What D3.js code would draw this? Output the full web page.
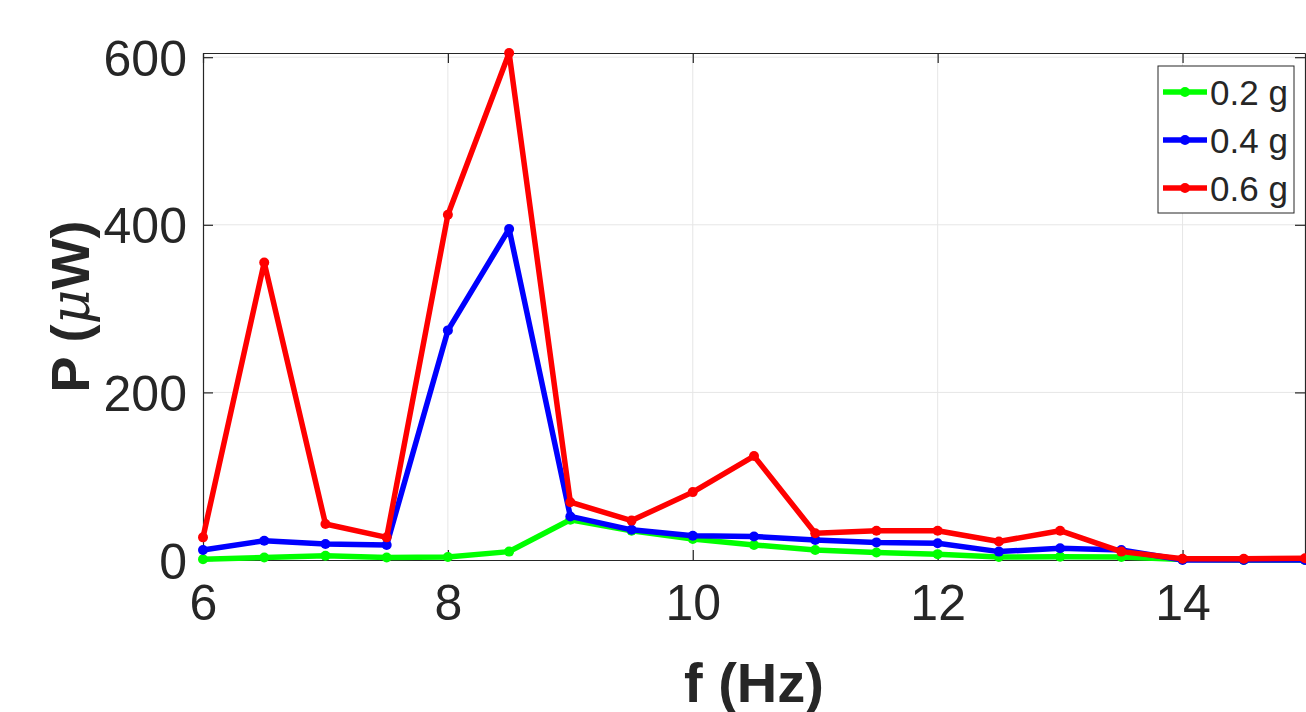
<!DOCTYPE html>
<html>
<head>
<meta charset="utf-8">
<script src="https://cdn.jsdelivr.net/npm/d3@7"></script>
<style>
  body { margin: 0; background: #fff; overflow: hidden; }
  text { font-family: "Liberation Sans", Arial, sans-serif; fill: #262626; }
</style>
</head>
<body>
<svg id="chart" width="1306" height="712"></svg>
<script>
// frequency sweep (Hz)
var freqs = [6, 6.5, 7, 7.5, 8, 8.5, 9, 9.5, 10, 10.5, 11, 11.5, 12, 12.5, 13, 13.5, 14, 14.5, 15];

// power in uW for each acceleration level
var p02 = [1, 3, 5, 3, 3.5, 10, 48, 35, 25, 18, 12, 9, 7, 3.5, 4, 3.5, 0.5, 0, 0];
var p04 = [12, 23, 19, 18, 274, 395, 52, 36, 29, 28, 24, 21, 20, 10, 14, 12, 0, 0, 0];
var p06 = [27, 355, 43, 27, 412, 605, 69, 47, 81, 124, 32, 35, 35, 22, 35, 10, 1.5, 1.5, 2];

var seriesNames = ["0.2 g", "0.4 g", "0.6 g"];
var seriesColors = ["#00ff00", "#0000ff", "#ff0000"];

var xTicks = [6, 8, 10, 12, 14];
var yTicks = [0, 200, 400, 600];

var series = [p02, p04, p06].map(function(vals, i) {
    return {
        name: seriesNames[i],
        color: seriesColors[i],
        values: vals.map(function(v, j) { return {f: freqs[j], p: v}; })
    };
});

var margin = {top: 53, right: 1, left: 203, bottom: 152};
var width = 1306 - margin.left - margin.right,
    height = 712 - margin.top - margin.bottom;

var svg = d3.select("#chart");
var g = svg.append("g")
    .attr("transform", "translate(" + margin.left + "," + margin.top + ")");

var x = d3.scaleLinear().domain([6, 15]).range([0, width]);
var y = d3.scaleLinear().domain([0, 605]).range([height, 0]);

// grid
g.append("g").selectAll("line.vgrid")
    .data(xTicks.slice(1))
    .enter().append("line")
    .attr("x1", d => x(d)).attr("x2", d => x(d))
    .attr("y1", 0).attr("y2", height)
    .attr("stroke", "#e6e6e6").attr("stroke-width", 1);

g.append("g").selectAll("line.hgrid")
    .data(yTicks.slice(1))
    .enter().append("line")
    .attr("x1", 0).attr("x2", width)
    .attr("y1", d => y(d)).attr("y2", d => y(d))
    .attr("stroke", "#e6e6e6").attr("stroke-width", 1);

// axes (ticks point inward, like matlab)
var xAxis = d3.axisBottom(x).tickValues(xTicks).tickSizeInner(-10).tickSizeOuter(0).tickPadding(24);
var yAxis = d3.axisLeft(y).tickValues(yTicks).tickSizeInner(-10).tickSizeOuter(0).tickPadding(16);

var gx = g.append("g").attr("transform", "translate(0," + height + ")").call(xAxis);
var gy = g.append("g").call(yAxis);

// top and right box edges with ticks
var gxTop = g.append("g").call(d3.axisTop(x).tickValues(xTicks).tickSizeInner(-10).tickSizeOuter(0).tickFormat(""));
var gyRight = g.append("g").attr("transform", "translate(" + width + ",0)")
    .call(d3.axisRight(y).tickValues(yTicks).tickSizeInner(-10).tickSizeOuter(0).tickFormat(""));

[gx, gy, gxTop, gyRight].forEach(function(a) {
    a.select(".domain").attr("stroke", "#262626").attr("stroke-width", 1.2);
    a.selectAll(".tick line").attr("stroke", "#262626").attr("stroke-width", 1.2);
    a.selectAll(".tick text")
        .style("font-family", "'Liberation Sans', Arial, sans-serif")
        .style("font-size", "50px")
        .attr("fill", "#262626");
});
gy.selectAll(".tick text").attr("dy", "0.36em");
gx.selectAll(".tick text").attr("dy", "0.72em");

// lines
var line = d3.line().x(d => x(d.f)).y(d => y(d.p));

var sg = g.selectAll("g.series")
    .data(series)
    .enter().append("g").attr("class", "series");

sg.append("path")
    .attr("d", d => line(d.values))
    .attr("fill", "none")
    .attr("stroke", d => d.color)
    .attr("stroke-width", 5.5)
    .attr("stroke-linejoin", "round");

sg.each(function(s) {
    d3.select(this).selectAll("circle")
        .data(s.values)
        .enter().append("circle")
        .attr("cx", d => x(d.f))
        .attr("cy", d => y(d.p))
        .attr("r", 5)
        .attr("fill", s.color);
});

// axis labels
svg.append("text")
    .attr("x", margin.left + width / 2)
    .attr("y", 702)
    .attr("text-anchor", "middle")
    .style("font-size", "56px")
    .style("font-weight", "bold")
    .text("f (Hz)");

var yl = svg.append("text")
    .attr("transform", "translate(89," + (margin.top + height / 2) + ") rotate(-90)")
    .attr("text-anchor", "middle")
    .style("font-size", "54px")
    .style("font-weight", "bold");
yl.append("tspan").text("P (");
yl.append("tspan")
    .style("font-family", "'DejaVu Serif', 'Liberation Serif', serif")
    .style("font-style", "italic")
    .style("font-weight", "normal")
    .text("\u03bc");
yl.append("tspan").text("W)");

// legend
var legend = svg.append("g").attr("transform", "translate(1158,66)");
legend.append("rect")
    .attr("width", 136).attr("height", 147)
    .attr("fill", "#fff")
    .attr("stroke", "#262626").attr("stroke-width", 1);

var li = legend.selectAll("g.item")
    .data(series)
    .enter().append("g")
    .attr("transform", (d, i) => "translate(0," + (26 + i * 48) + ")");

li.append("line")
    .attr("x1", 5).attr("x2", 49)
    .attr("stroke", d => d.color).attr("stroke-width", 5.5);
li.append("circle")
    .attr("cx", 27).attr("r", 5)
    .attr("fill", d => d.color);
li.append("text")
    .attr("x", 52)
    .attr("dy", "0.36em")
    .style("font-size", "35px")
    .attr("fill", "#000")
    .text(d => d.name);
</script>
</body>
</html>
